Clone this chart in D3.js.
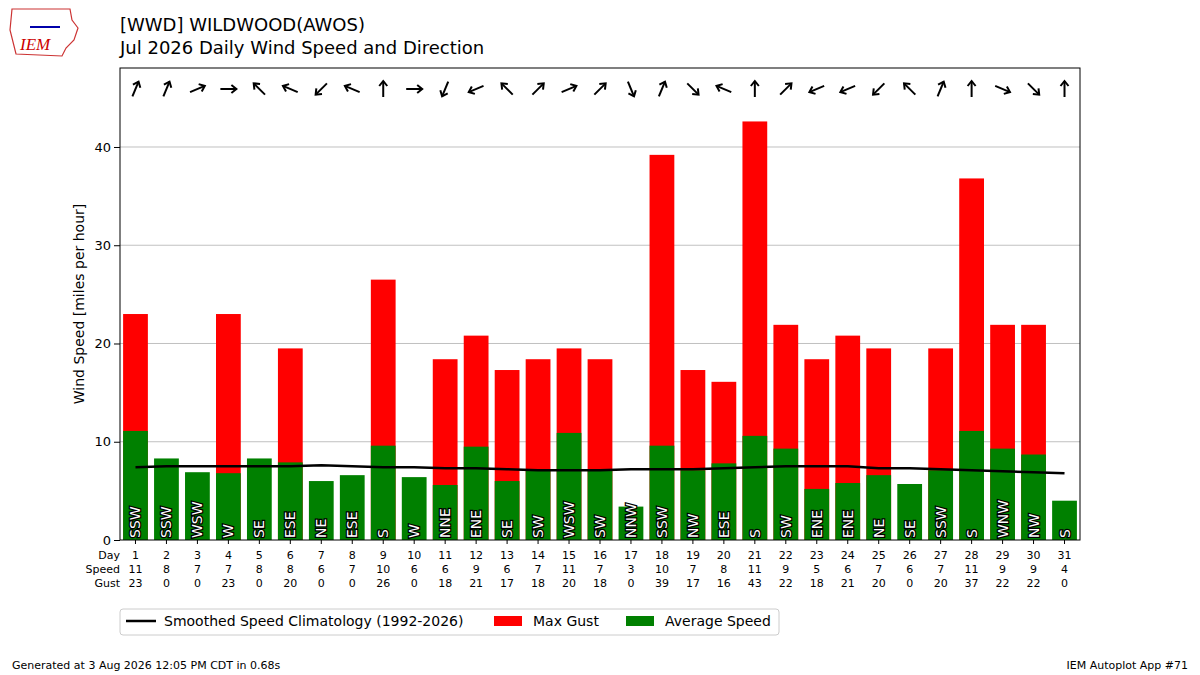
<!DOCTYPE html>
<html><head><meta charset="utf-8">
<script src="https://cdn.jsdelivr.net/npm/d3@7"></script>
<style>body{margin:0;background:#fff}svg{font-family:"DejaVu Sans",sans-serif}</style>
</head><body><svg id="c" width="1200" height="675"></svg>
<script>
const days = d3.range(1, 32)
const avgSpeed = [11.1,8.3,6.9,6.8,8.3,7.9,6.0,6.6,9.6,6.4,5.6,9.5,6.0,7.1,10.9,7.1,3.4,9.6,7.1,7.8,10.6,9.3,5.2,5.8,6.6,5.7,7.1,11.1,9.3,8.7,4.0]
const maxGust = [23.0,0,0,23.0,0,19.5,0,0,26.5,0,18.4,20.8,17.3,18.4,19.5,18.4,0,39.2,17.3,16.1,42.6,21.9,18.4,20.8,19.5,0,19.5,36.8,21.9,21.9,0]
const speedLbl = [11,8,7,7,8,8,6,7,10,6,6,9,6,7,11,7,3,10,7,8,11,9,5,6,7,6,7,11,9,9,4]
const gustLbl = [23,0,0,23,0,20,0,0,26,0,18,21,17,18,20,18,0,39,17,16,43,22,18,21,20,0,20,37,22,22,0]
const dirs = ["SSW","SSW","WSW","W","SE","ESE","NE","ESE","S","W","NNE","ENE","SE","SW","WSW","SW","NNW","SSW","NW","ESE","S","SW","ENE","ENE","NE","SE","SSW","S","WNW","NW","S"]
const climo = [7.4,7.5,7.5,7.5,7.5,7.5,7.6,7.5,7.4,7.4,7.3,7.3,7.2,7.1,7.1,7.1,7.2,7.2,7.2,7.3,7.4,7.5,7.5,7.5,7.3,7.3,7.2,7.1,7.0,6.9,6.8]
const compass = ["N","NNE","NE","ENE","E","ESE","SE","SSE","S","SSW","SW","WSW","W","WNW","NW","NNW"]

const svg = d3.select("#c")
const L = 120, R = 1080, T = 68, B = 540
const x = d3.scaleLinear().domain([0.5, 31.5]).range([L, R])
const y = d3.scaleLinear().domain([0, 48.04]).range([B, T])
const bw = (x(1) - x(0)) * 0.8

// grid
svg.append("g").selectAll("line").data([10,20,30,40]).join("line")
  .attr("x1", L).attr("x2", R).attr("y1", d => y(d)).attr("y2", d => y(d))
  .attr("stroke", "#b0b0b0").attr("stroke-width", 0.8)

svg.append("g").selectAll("rect").data(days).join("rect")
  .attr("x", d => x(d) - bw / 2).attr("width", bw)
  .attr("y", (d, i) => y(maxGust[i])).attr("height", (d, i) => B - y(maxGust[i]))
  .attr("fill", "#ff0000")
svg.append("g").selectAll("rect").data(days).join("rect")
  .attr("x", d => x(d) - bw / 2).attr("width", bw)
  .attr("y", (d, i) => y(avgSpeed[i])).attr("height", (d, i) => B - y(avgSpeed[i]))
  .attr("fill", "#008000")

svg.append("path").datum(climo)
  .attr("d", d3.line().x((d, i) => x(days[i])).y(d => y(d)))
  .attr("fill", "none").attr("stroke", "#000").attr("stroke-width", 2.5)

// direction text in bars
svg.append("g").selectAll("text").data(days).join("text")
  .attr("transform", d => `translate(${x(d) + 5},${B - 2}) rotate(-90)`)
  .attr("font-size", 14).attr("fill", "#fff").attr("stroke", "#000").attr("stroke-width", 2.5)
  .attr("paint-order", "stroke").text((d, i) => dirs[i])

// arrows
const arr = svg.append("g").selectAll("g").data(days).join("g")
  .attr("transform", (d, i) => `translate(${x(d)},89) rotate(${compass.indexOf(dirs[i]) * 22.5 + 180})`)
arr.append("line").attr("y1", 8).attr("y2", -8).attr("stroke", "#000").attr("stroke-width", 2)
arr.append("path").attr("d", "M-4,-3 L0,-8 L4,-3").attr("fill", "none").attr("stroke", "#000").attr("stroke-width", 2)

// frame
svg.append("rect").attr("x", L).attr("y", T).attr("width", R - L).attr("height", B - T)
  .attr("fill", "none").attr("stroke", "#000").attr("stroke-width", 1)

const ya = svg.append("g").attr("transform", `translate(${L},0)`)
  .call(d3.axisLeft(y).tickValues([0,10,20,30,40]).tickSizeOuter(0))
ya.select(".domain").remove()
ya.selectAll("text").attr("font-size", 13).attr("font-family", "DejaVu Sans")
svg.append("text").attr("transform", `translate(84,${(T + B) / 2}) rotate(-90)`)
  .attr("text-anchor", "middle").attr("font-size", 14).text("Wind Speed [miles per hour]")

// bottom tick rows
svg.append("g").selectAll("line").data(days).join("line")
  .attr("x1", d => x(d)).attr("x2", d => x(d)).attr("y1", B).attr("y2", B + 4).attr("stroke", "#000")
const rows = [["Day", days], ["Speed", speedLbl], ["Gust", gustLbl]]
rows.forEach(([name, vals], r) => {
  const yy = 559 + r * 14
  svg.append("text").attr("x", L).attr("y", yy).attr("text-anchor", "end").attr("font-size", 11).text(name)
  svg.append("g").selectAll("text").data(vals).join("text")
    .attr("x", (d, i) => x(days[i])).attr("y", yy).attr("text-anchor", "middle").attr("font-size", 11).text(d => d)
})

// titles
svg.append("text").attr("x", 120).attr("y", 31).attr("font-size", 18).text("[WWD] WILDWOOD(AWOS)")
svg.append("text").attr("x", 120).attr("y", 54).attr("font-size", 18).text("Jul 2026 Daily Wind Speed and Direction")

// logo approximation
svg.append("path").attr("d", "M12,9 L70,9 L72,20 L78,28 L74,40 L66,48 L62,56 L16,54 L10,30 Z")
  .attr("fill", "#fff").attr("stroke", "#c33").attr("stroke-width", 1.2)
svg.append("text").attr("x", 20).attr("y", 50).attr("font-size", 17).attr("font-style", "italic")
  .attr("fill", "#c00").attr("font-family", "Liberation Serif").text("IEM")
svg.append("line").attr("x1", 30).attr("x2", 60).attr("y1", 27).attr("y2", 27).attr("stroke", "#00a").attr("stroke-width", 2)

// legend
const lg = svg.append("g")
lg.append("rect").attr("x", 120).attr("y", 609).attr("width", 659).attr("height", 26).attr("rx", 3)
  .attr("fill", "#fff").attr("stroke", "#ccc")
lg.append("line").attr("x1", 126).attr("x2", 156).attr("y1", 621).attr("y2", 621).attr("stroke", "#000").attr("stroke-width", 2.5)
lg.append("text").attr("x", 164).attr("y", 626).attr("font-size", 14).text("Smoothed Speed Climatology (1992-2026)")
lg.append("rect").attr("x", 494).attr("y", 616).attr("width", 28).attr("height", 10).attr("fill", "#ff0000")
lg.append("text").attr("x", 533).attr("y", 626).attr("font-size", 14).text("Max Gust")
lg.append("rect").attr("x", 626).attr("y", 616).attr("width", 28).attr("height", 10).attr("fill", "#008000")
lg.append("text").attr("x", 665).attr("y", 626).attr("font-size", 14).text("Average Speed")

svg.append("text").attr("x", 12).attr("y", 669).attr("font-size", 11).text("Generated at 3 Aug 2026 12:05 PM CDT in 0.68s")
svg.append("text").attr("x", 1188).attr("y", 669).attr("text-anchor", "end").attr("font-size", 11).text("IEM Autoplot App #71")
</script></body></html>
